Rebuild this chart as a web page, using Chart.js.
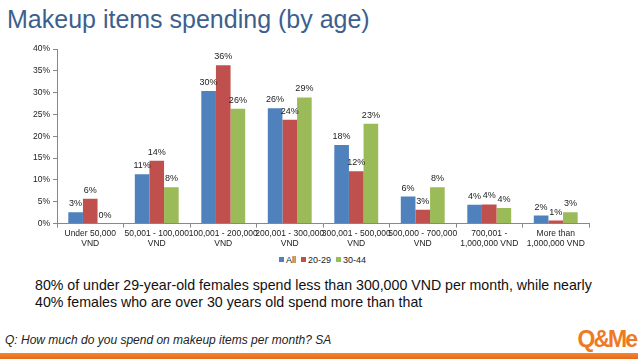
<!DOCTYPE html>
<html>
<head>
<meta charset="utf-8">
<script src="https://cdn.jsdelivr.net/npm/chart.js@4"></script>
<style>
  body { margin: 0; width: 638px; height: 359px; overflow: hidden; background: #fff; font-family: "Liberation Sans", Arial, sans-serif; position: relative; }
  .txt { position: absolute; white-space: nowrap; }
  #title { left: 7px; top: 5px; font-size: 25px; color: #3d5f8e; }
  #chartBox { position: absolute; left: 0; top: 40px; width: 638px; height: 210px; }
  #legend { left: 274px; top: 255px; font-size: 9px; color: #222; }
  #legend span.box { display: inline-block; width: 5px; height: 5px; margin: 0 2px 1px 5px; }
  #note { left: 35px; top: 277px; font-size: 14.2px; line-height: 17px; color: #111; }
  #question { left: 5px; top: 333px; font-size: 12px; font-style: italic; color: #222; }
  #logo { right: 2px; top: 326px; font-size: 23px; font-weight: bold; color: #ee7a22; letter-spacing: -2px; }
  #bar { position: absolute; left: 0; top: 353px; width: 638px; height: 6px; background: linear-gradient(#f08a30, #e8691a); }
</style>
</head>
<body>
<div id="title" class="txt">Makeup items spending (by age)</div>
<div id="chartBox"><canvas id="chart"></canvas></div>
<div id="legend" class="txt"></div>
<div id="note" class="txt">80% of under 29-year-old females spend less than 300,000 VND per month, while nearly<br>40% females who are over 30 years old spend more than that</div>
<div id="question" class="txt">Q: How much do you spend on makeup items per month? SA</div>
<div id="logo" class="txt">Q&amp;Me</div>
<div id="bar"></div>
<script>
const categories = [
  ["Under 50,000", "VND"],
  ["50,001 - 100,000", "VND"],
  ["100,001 - 200,000", "VND"],
  ["200,001 - 300,000", "VND"],
  ["300,001 - 500,000", "VND"],
  ["500,000 - 700,000", "VND"],
  ["700,001 -", "1,000,000 VND"],
  ["More than", "1,000,000 VND"]
];
const seriesNames = ["All", "20-29", "30-44"];
const allValues = [2.6, 11.3, 30.4, 26.4, 18.0, 6.2, 4.3, 1.85];
const age2029 = [5.7, 14.4, 36.3, 23.8, 12.0, 3.2, 4.4, 0.7];
const age3044 = [0, 8.3, 26.3, 28.9, 22.9, 8.3, 3.6, 2.6];
const yTicks = [0, 5, 10, 15, 20, 25, 30, 35, 40];
const colors = ['#4f81bd', '#c0504d', '#9bbb59'];

const FONT = '"Liberation Sans", Arial, sans-serif';

// percent labels on top of each bar
const barLabels = {
  id: 'barLabels',
  afterDatasetsDraw(chart) {
    const ctx = chart.ctx;
    ctx.save();
    ctx.font = '9px ' + FONT;
    ctx.fillStyle = '#222';
    ctx.textAlign = 'center';
    ctx.textBaseline = 'alphabetic';
    chart.data.datasets.forEach((ds, i) => {
      chart.getDatasetMeta(i).data.forEach((bar, j) => {
        ctx.fillText(Math.round(ds.data[j]) + '%', bar.x, bar.y - 6);
      });
    });
    ctx.restore();
  }
};

const chart = new Chart(document.getElementById('chart'), {
  type: 'bar',
  data: {
    labels: categories,
    datasets: [
      { label: seriesNames[0], data: allValues, backgroundColor: colors[0] },
      { label: seriesNames[1], data: age2029, backgroundColor: colors[1] },
      { label: seriesNames[2], data: age3044, backgroundColor: colors[2] }
    ]
  },
  options: {
    responsive: true,
    maintainAspectRatio: false,
    animation: false,
    datasets: { bar: { categoryPercentage: 0.66, barPercentage: 1 } },
    layout: { padding: { top: 9, right: 49, left: 0, bottom: 0 } },
    plugins: {
      legend: { display: false },
      tooltip: { enabled: false }
    },
    scales: {
      x: {
        grid: { offset: true, drawOnChartArea: false, tickLength: 4, color: '#888' },
        border: { color: '#888' },
        ticks: { color: '#222', padding: 1, maxRotation: 0, autoSkip: false, font: { size: 8.5, family: FONT } }
      },
      y: {
        min: 0,
        max: 40,
        afterBuildTicks: scale => { scale.ticks = yTicks.map(v => ({ value: v })); },
        afterFit: scale => { scale.width = 57; },
        grid: { drawOnChartArea: false, tickLength: 4, color: '#888' },
        border: { color: '#888' },
        ticks: { color: '#222', padding: 3, callback: v => v + '%', font: { size: 8.5, family: FONT } }
      }
    }
  },
  plugins: [barLabels]
});

// legend under the chart
document.getElementById('legend').innerHTML = chart.data.datasets
  .map(ds => `<span class="box" style="background:${ds.backgroundColor}"></span>${ds.label}`)
  .join('');
</script>
</body>
</html>
